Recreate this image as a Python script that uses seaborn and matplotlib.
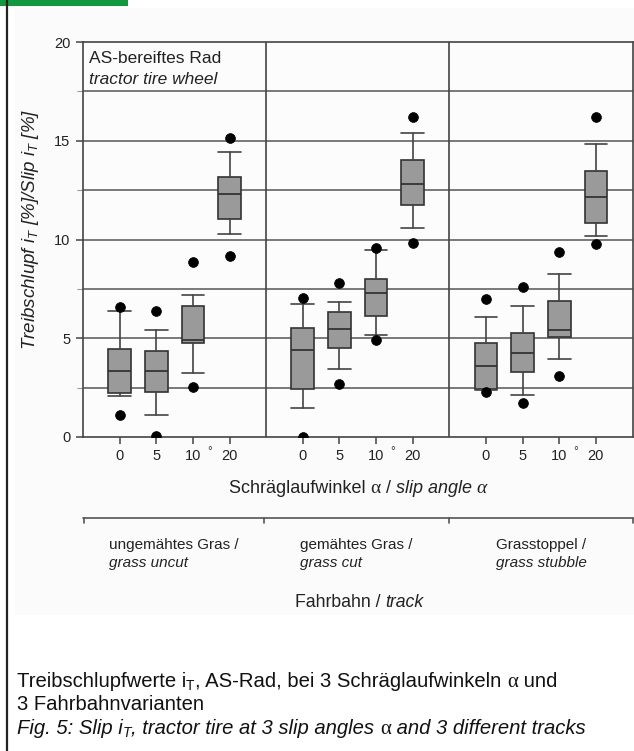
import numpy as np
import pandas as pd
import matplotlib
matplotlib.use("Agg")
import matplotlib.pyplot as plt
import seaborn as sns
from matplotlib.lines import Line2D
from matplotlib.patches import Rectangle
from matplotlib import font_manager as fm

# ---------------- data ----------------
tracks = ["ungemähtes Gras", "gemähtes Gras", "Grasstoppel"]
tracks_en = ["grass uncut", "grass cut", "grass stubble"]
angles = ["0", "5", "10", "20"]

# order: track 1 (0,5,10,20), track 2 (...), track 3 (...)
whisk_lo = [2.09, 1.11, 3.26, 10.26,  1.45, 3.43, 5.16, 10.57,  2.40, 2.13, 3.93, 10.18]
q1       = [2.25, 2.26, 4.78, 11.04,  2.45, 4.49, 6.13, 11.75,  2.41, 3.31, 5.08, 10.82]
median   = [3.34, 3.34, 4.91, 12.29,  4.41, 5.49, 7.27, 12.83,  3.61, 4.27, 5.42, 12.14]
q3       = [4.46, 4.35, 6.62, 13.15,  5.54, 6.35, 8.00, 14.01,  4.74, 5.25, 6.90, 13.49]
whisk_hi = [6.40, 5.43, 7.19, 14.45,  6.72, 6.85, 9.45, 15.41,  6.09, 6.62, 8.24, 14.85]
out_lo   = [1.11, 0.07, 2.53, 9.18,   0.02, 2.70, 4.89, 9.81,   2.26, 1.74, 3.09, 9.77]
out_hi   = [6.60, 6.40, 8.84, 15.16,  7.02, 7.81, 9.59, 16.19,  6.99, 7.58, 9.35, 16.22]

# ---------------- style ----------------
sns.set_theme(style="white")
names = {f.name for f in fm.fontManager.ttflist}
SANS = "Liberation Sans" if "Liberation Sans" in names else "DejaVu Sans"
SERIF = "Liberation Serif" if "Liberation Serif" in names else "DejaVu Serif"
CAPF = "Liberation Sans Narrow" if "Liberation Sans Narrow" in names else SANS
plt.rcParams["font.family"] = [SANS, "DejaVu Sans"]
plt.rcParams["mathtext.fontset"] = "custom"
plt.rcParams["mathtext.rm"] = SANS
plt.rcParams["mathtext.it"] = SANS + ":italic"
plt.rcParams["mathtext.bf"] = SANS + ":bold"

W, H = 634, 751
fig = plt.figure(figsize=(W / 100, H / 100), dpi=100, facecolor="white")

def fx(px):
    return px / W

def fy(py):
    return 1 - py / H

# light page background of the chart image
fig.add_artist(Rectangle((fx(15), fy(615)), fx(634 - 15), (615 - 8) / H,
                         transform=fig.transFigure, facecolor="#fbfbfb",
                         edgecolor="none", zorder=-10))
# left page border and green header bar
fig.add_artist(Line2D([fx(6.5), fx(6.5)], [0, 1], transform=fig.transFigure,
                      color="#222222", lw=1.6))
fig.add_artist(Rectangle((0, fy(5.5)), fx(128), 5.5 / H, transform=fig.transFigure,
                         facecolor="#12993f", edgecolor="none"))

ax = fig.add_axes([fx(83), fy(437), fx(632.5 - 83), (437 - 42) / H])
ax.set_facecolor("#fcfcfc")

n_ang = len(angles)
group_w = n_ang + 1
positions = [g * group_w + 1 + k for g in range(len(tracks)) for k in range(n_ang)]

stats = []
for i in range(len(positions)):
    stats.append(dict(med=median[i], q1=q1[i], q3=q3[i],
                      whislo=whisk_lo[i], whishi=whisk_hi[i], fliers=[]))

box_w = 0.62
ax.bxp(stats, positions=positions, widths=box_w, capwidths=box_w,
       patch_artist=True, showfliers=False, manage_ticks=False,
       boxprops=dict(facecolor="#9a9a9a", edgecolor="#333333", linewidth=1.2),
       medianprops=dict(color="#333333", linewidth=1.3),
       whiskerprops=dict(color="#444444", linewidth=1.2),
       capprops=dict(color="#444444", linewidth=1.2), zorder=3)

# outlier points
pts = pd.DataFrame({
    "x": positions * 2,
    "y": out_lo + out_hi,
})
sns.scatterplot(data=pts, x="x", y="y", ax=ax, color="black", s=50,
                edgecolor="black", linewidth=0.5, zorder=5, legend=False)

# grid
for yv in np.arange(2.5, 20, 2.5):
    ax.axhline(yv, color="#555555", lw=1.1, zorder=1)
for g in range(1, len(tracks)):
    ax.axvline(g * group_w, color="#444444", lw=1.2, zorder=1)

ax.set_xlim(0, group_w * len(tracks))
ax.set_ylim(0, 20)
ax.set_xticks(positions)
ax.set_xticklabels(angles * len(tracks))
ax.set_yticks(np.arange(0, 21, 5))
ax.set_yticks(np.arange(2.5, 20, 5), minor=True)
ax.set_xlabel("")
ax.set_ylabel("")
ax.tick_params(axis="both", which="major", direction="out", length=5, width=1.1,
               color="#444444", labelsize=10.5, labelcolor="#222222", pad=4,
               bottom=True, left=True)
ax.tick_params(axis="y", which="minor", direction="out", length=4, width=0.8,
               color="#999999", left=True)
for s in ax.spines.values():
    s.set_color("#444444")
    s.set_linewidth(1.2)

# degree sign between 10 and 20
for g in range(len(tracks)):
    ax.text(g * group_w + 3.45, -0.45, "°", ha="center", va="top",
            fontsize=8.5, color="#333333", transform=ax.transData, clip_on=False)

# inner title
ax_w_px = 632.5 - 83
ax.text((89 - 83) / ax_w_px, (437 - 63) / 395, "AS-bereiftes Rad",
        transform=ax.transAxes, fontsize=12.5, va="baseline", ha="left", color="#222222")
ax.text((89 - 83) / ax_w_px, (437 - 84) / 395, "tractor tire wheel",
        transform=ax.transAxes, fontsize=12.5, style="italic", va="baseline",
        ha="left", color="#222222")

# y label
fig.text(fx(31), fy(229),
         r"Treibschlupf $i_T$ [%]/Slip $i_T$ [%]", rotation=90, ha="center",
         va="center", fontsize=13.5, style="italic", color="#222222")

renderer = fig.canvas.get_renderer()

def rich(parts, x_px, y_px, ha="left"):
    """parts: list of (text, kwargs, dy_px). y_px: baseline from top."""
    items = []
    cur = 0.0
    for s, kw, dy in parts:
        t = fig.text(0, 0, s, ha="left", va="baseline", **kw)
        w = t.get_window_extent(renderer).width
        items.append((t, cur, dy))
        cur += w
    start = x_px - (cur / 2 if ha == "center" else 0)
    for t, off, dy in items:
        t.set_position((fx(start + off), fy(y_px + dy)))
    return start, cur

C = "#222222"
sans = dict(fontsize=13, color=C, family=SANS)
sans_i = dict(fontsize=13, color=C, family=SANS, style="italic")
ser = dict(fontsize=14, color=C, family=SERIF)
ser_i = dict(fontsize=14, color=C, family=SERIF, style="italic")

rich([("Schräglaufwinkel ", sans, 0), ("α", ser, 0), (" / ", sans, 0),
      ("slip angle ", sans_i, 0), ("α", ser_i, 0)], 358, 493, ha="center")

# track bracket axis
yb = 517.5
fig.add_artist(Line2D([fx(83), fx(633)], [fy(yb), fy(yb)], transform=fig.transFigure,
                      color="#555555", lw=1.2))
for xb in [83.5, 264, 449, 632.5]:
    fig.add_artist(Line2D([fx(xb), fx(xb)], [fy(yb), fy(yb + 5)],
                          transform=fig.transFigure, color="#555555", lw=1.2))

gx = [173.5, 356.5, 541]
cat = dict(fontsize=11, color=C, family=SANS)
cat_i = dict(fontsize=11, color=C, family=SANS, style="italic")
for g in range(len(tracks)):
    start, _ = rich([(tracks[g] + " /", cat, 0)], gx[g], 549, ha="center")
    rich([(tracks_en[g], cat_i, 0)], start, 567, ha="left")

fb = dict(fontsize=12.7, color=C, family=SANS)
fb_i = dict(fontsize=12.7, color=C, family=SANS, style="italic")
rich([("Fahrbahn / ", fb, 0), ("track", fb_i, 0)], 359, 607, ha="center")

# caption
CS = 14.6
cf = dict(fontsize=CS, color="#111111", family=CAPF)
cf_s = dict(fontsize=10, color="#111111", family=CAPF)
cfi = dict(fontsize=CS, color="#111111", family=CAPF, style="italic")
cfi_s = dict(fontsize=10, color="#111111", family=CAPF, style="italic")
cser = dict(fontsize=15, color="#111111", family=SERIF)
rich([("Treibschlupfwerte i", cf, 0), ("T", cf_s, 3), (", AS-Rad, bei 3 Schräglaufwinkeln ", cf, 0),
      ("α", cser, 0), (" und", cf, 0)], 17, 687)
rich([("3 Fahrbahnvarianten", cf, 0)], 17, 710)
rich([("Fig. 5: Slip i", cfi, 0), ("T", cfi_s, 3), (", tractor tire at 3 slip angles ", cfi, 0),
      ("α", cser, 0), (" and 3 different tracks", cfi, 0)], 17, 734)

fig.savefig("out.png", dpi=100, facecolor="white")
